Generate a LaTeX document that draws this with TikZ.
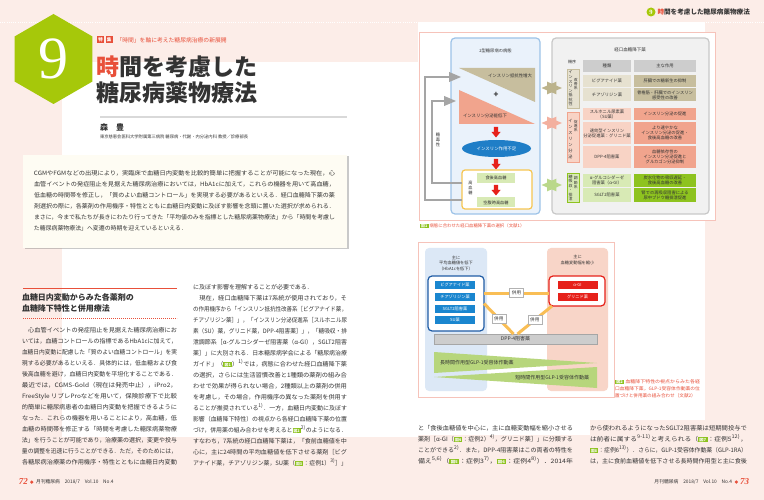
\documentclass[tikz,border=0pt]{standalone}
\usepackage{fontspec}
\setmainfont{Noto Sans CJK JP}
\newfontfamily\numfont{Liberation Serif}
\usepackage{graphicx}
\usepackage{tikz}
\usetikzlibrary{arrows,positioning,calc,shapes.geometric,shadows}

\definecolor{bgpink}{HTML}{FCEDE8}
\definecolor{hexgreen}{HTML}{A6C80A}
\definecolor{jred}{HTML}{E8503A}
\definecolor{zugreen}{HTML}{8DC21F}
\definecolor{ink}{HTML}{333333}
\definecolor{framepink}{HTML}{F6C3BA}
\definecolor{pblue}{HTML}{EAF2FB}
\definecolor{pblueline}{HTML}{9DC3E8}
\definecolor{pgray}{HTML}{F1F1F1}
\definecolor{pgrayline}{HTML}{C8C8C8}
\definecolor{tanD}{HTML}{C7BE9E}
\definecolor{tanL}{HTML}{E6E1D0}
\definecolor{tanA}{HTML}{BCB38C}
\definecolor{salD}{HTML}{F1A48D}
\definecolor{salL}{HTML}{F8D3C5}
\definecolor{salA}{HTML}{F3B09F}
\definecolor{grD}{HTML}{8EC31F}
\definecolor{grL}{HTML}{D8EAB5}
\definecolor{grA}{HTML}{BAD88B}
\definecolor{ellblue}{HTML}{1F7EC7}
\definecolor{arrred}{HTML}{E6211A}
\definecolor{ybox}{HTML}{F6C550}
\definecolor{gline}{HTML}{A5A5A5}
\definecolor{hdgray}{HTML}{CDCDCD}
\definecolor{ftblue}{HTML}{DCE8F6}
\definecolor{ftpink}{HTML}{F8D5C8}
\definecolor{itblue}{HTML}{1A86CF}
\definecolor{boxblue}{HTML}{1F5CA5}
\definecolor{orng}{HTML}{F9BE55}
\definecolor{wedge}{HTML}{B7D67C}
\definecolor{cream}{HTML}{FEFCF3}

\newcommand\fs[2]{\fontsize{#1}{#2}\selectfont}
\newcommand\jl[2][155pt]{\resizebox{#1}{\height}{#2}}
\newcommand\zu[1]{{\setlength{\fboxsep}{0.6pt}\colorbox{zugreen}{\textcolor{white}{\fs{3.8}{4}\bfseries\,図#1\,}}}}
\newcommand\rf[1]{\textsuperscript{#1}}

\tikzset{redarr/.pic={\fill[arrred] (-2.2,-5) -- (2.2,-5) -- (2.2,0) -- (4.5,0) -- (0,5.5) -- (-4.5,0) -- (-2.2,0) -- cycle;}}

\begin{document}
\begin{tikzpicture}[x=1pt, y=-1pt, inner sep=0pt, outer sep=0pt, font=\fs{4.3}{5.2}, text=ink,
  cell/.style={minimum height=12pt, align=center},
  lcell/.style={cell, minimum width=48pt},
  rcell/.style={cell, minimum width=62pt},
  glab/.style={minimum width=12pt, line width=0.5pt},
  vt/.style={align=center, font=\fs{4}{4.55}},
  col/.style={anchor=north west, align=left, font=\fs{6}{11}},
  garr/.style={draw=gline, line width=1.8pt, -triangle 45},
  darr/.style={line width=2.5pt, triangle 45-triangle 45},
  itm/.style={minimum width=40pt, minimum height=8pt, text=white, font=\fs{4.2}{5}},
  heiyo/.style={fill=white, draw=gray!60, line width=0.5pt, minimum width=14pt, minimum height=9pt, font=\fs{4.6}{5}},
  oline/.style={draw=orng, line width=3pt}]
\useasboundingbox (0,0) rectangle (764,500);
% page background
\fill[bgpink] (0,0) rectangle (764,500);
\fill[white] (62,62) rectangle (418,437);
\fill[white] (418,22) rectangle (705,420);
\fill[white] (418,420) rectangle (590,435);
\draw[white, line width=0.8pt, dash pattern=on 0.8pt off 1.4pt] (0,22) -- (764,22);

% title block
\fill[hexgreen] (53.5,59) +(90:45) -- +(30:45) -- +(-30:45) -- +(-90:45) -- +(-150:45) -- +(150:45) -- cycle;
\node[text=white, font=\numfont\fs{60}{60}] (nine) at (53.5,59) {9};
\node[fill=jred, minimum size=7pt, text=white, font=\fs{4.5}{5}\bfseries] (tk1) at (100.5,40) {特};
\node[fill=jred, minimum size=7pt, text=white, font=\fs{4.5}{5}\bfseries, right=1.5pt of tk1] (tk2) {集};
\node[right=4pt of tk2, text=jred, font=\fs{5.8}{6}] (sub) {「時間」を軸に考えた糖尿病治療の新展開};
\node[anchor=west, font=\fs{23}{26}\bfseries] (ttl1) at (96,67) {\textcolor{jred}{時}間を考慮した};
\node[anchor=west, font=\fs{23}{26}\bfseries] (ttl2) at (96,93) {糖尿病薬物療法};
\draw[line width=1.5pt, gray!30] (100,117) -- (347,117);
\node[anchor=west, font=\fs{8}{9}\bfseries] (auth) at (100,127) {森　豊};
\node[anchor=west, font=\fs{4.3}{5}] (affil) at (100,137) {東京慈恵会医科大学附属第三病院 糖尿病・代謝・内分泌内科 教授／診療部長};

% abstract
\node[fill=cream, minimum width=324pt, minimum height=93pt,
  drop shadow={shadow xshift=1.5pt, shadow yshift=-1.5pt, opacity=0.35, fill=black!60}] (abs) at (185,201.5) {};
\node[col, font=\fs{5.9}{11}] (abstxt) at (34,171) {%
\jl[301pt]{CGMやFGMなどの出現により，実臨床で血糖日内変動を比較的簡単に把握することが可能になった現在，心}\\
\jl[301pt]{血管イベントの発症阻止を見据えた糖尿病治療においては，HbA1cに加えて，これらの機器を用いて高血糖，}\\
\jl[301pt]{低血糖の時間帯を修正し，「質のよい血糖コントロール」を実現する必要があるといえる．経口血糖降下薬の薬}\\
\jl[301pt]{剤選択の際に，各薬剤の作用機序・特性とともに血糖日内変動に及ぼす影響を念頭に置いた選択が求められる．}\\
\jl[301pt]{まさに，今まで私たちが長きにわたり行ってきた「平均値のみを指標とした糖尿病薬物療法」から「時間を考慮し}\\
た糖尿病薬物療法」へ変遷の時期を迎えているといえる．};

% section heading
\draw[jred, line width=1.5pt] (23,288.5) -- (177,288.5);
\node[anchor=north west, align=left, font=\fs{8}{11}\bfseries] (sec) at (22,294) {血糖日内変動からみた各薬剤の\\血糖降下特性と併用療法};
\draw[jred, line width=0.8pt, dash pattern=on 0.8pt off 1.2pt] (23,318) -- (177,318);

% body text, left page
\node[col] (colA) at (22,327) {%
\jl{　心血管イベントの発症阻止を見据えた糖尿病治療にお}\\
\jl{いては，血糖コントロールの指標であるHbA1cに加えて，}\\
\jl{血糖日内変動に配慮した「質のよい血糖コントロール」を実}\\
\jl{現する必要があるといえる．具体的には，低血糖および食}\\
\jl{後高血糖を避け，血糖日内変動を平坦化することである．}\\
\jl{最近では，CGMS-Gold（現在は発売中止），iPro2，}\\
\jl{FreeStyle リブレProなどを用いて，保険診療下で比較}\\
\jl{的簡単に糖尿病患者の血糖日内変動を把握できるように}\\
\jl{なった．これらの機器を用いることにより，高血糖，低}\\
\jl{血糖の時間帯を修正する「時間を考慮した糖尿病薬物療}\\
\jl{法」を行うことが可能であり，治療薬の選択，変更や投与}\\
\jl{量の調整を迅速に行うことができる．ただ，そのためには，}\\
\jl{各糖尿病治療薬の作用機序・特性とともに血糖日内変動}};
\node[col] (colB) at (193,284) {%
に及ぼす影響を理解することが必要である．\\
\jl[154pt]{　現在，経口血糖降下薬は7系統が使用されており，そ}\\
\jl[154pt]{の作用機序から「インスリン抵抗性改善系［ビグアナイド薬，}\\
\jl[154pt]{チアゾリジン薬］」，「インスリン分泌促進系［スルホニル尿}\\
\jl[154pt]{素（SU）薬，グリニド薬，DPP-4阻害薬］」，「糖吸収・排}\\
\jl[154pt]{泄調節系［α-グルコシダーゼ阻害薬（α-GI），SGLT2阻害}\\
\jl[154pt]{薬］」に大別される．日本糖尿病学会による「糖尿病治療}\\
\jl[154pt]{ガイド」（\zu{1}）\rf{1)}では，病態に合わせた経口血糖降下薬}\\
\jl[154pt]{の選択，さらには生活習慣改善と1種類の薬剤の組み合}\\
\jl[154pt]{わせで効果が得られない場合，2種類以上の薬剤の併用}\\
\jl[154pt]{を考慮し，その場合，作用機序の異なった薬剤を併用す}\\
\jl[154pt]{ることが推奨されている\rf{1)}．一方，血糖日内変動に及ぼす}\\
\jl[154pt]{影響（血糖降下特性）の視点から各経口血糖降下薬の位置}\\
\jl[154pt]{づけ，併用薬の組み合わせを考えると\zu{2}\rf{2)}のようになる．}\\
\jl[154pt]{すなわち，7系統の経口血糖降下薬は，「食前血糖値を中}\\
\jl[154pt]{心に，主に24時間の平均血糖値を低下させる薬剤［ビグ}\\
\jl[154pt]{アナイド薬，チアゾリジン薬，SU薬（\zu{3}：症例1）\rf{3)}］」}};

% page footers
\node[anchor=west, text=jred, font=\numfont\fs{9}{9}\bfseries\itshape] (pl) at (19,482) {72};
\node[circle, fill=jred, minimum size=3.5pt, right=2pt of pl] (dl) {};
\node[right=2.5pt of dl, font=\fs{4.8}{5}] (fl) {月刊糖尿病　2018/7　Vol.10　No.4};
\node[anchor=east, text=jred, font=\numfont\fs{9}{9}\bfseries\itshape] (pr) at (749,482) {73};
\node[circle, fill=jred, minimum size=3.5pt, left=2pt of pr] (dr) {};
\node[left=2.5pt of dr, font=\fs{4.8}{5}] (fr) {月刊糖尿病　2018/7　Vol.10　No.4};

% running head, right page
\node[circle, fill=hexgreen, minimum size=9pt, text=white, font=\numfont\fs{6.5}{7}\bfseries] (hd9) at (651,12) {9};
\node[right=2pt of hd9, font=\fs{6.6}{7}\bfseries] (hdt) {\textcolor{jred}{時}間を考慮した糖尿病薬物療法};

% figure 1
\node[draw=framepink, line width=0.8pt, fill=white, minimum width=296pt, minimum height=188pt] (f1) at (567,126) {};
\node[draw=pblueline, fill=pblue, line width=1.2pt, rounded corners=4pt, minimum width=89pt, minimum height=176pt] (lp) at (495.5,126) {};
\node[draw=pgrayline, fill=pgray, line width=1.2pt, rounded corners=4pt, minimum width=157pt, minimum height=176pt] (rp) at (630.5,126) {};
\node (lpt) at (495.5,51) {2型糖尿病の病態};
\node[font=\fs{4.5}{5}] (rpt) at (630,50) {経口血糖降下薬};

\fill[tanD] (459,68) -- (535,68) -- (535,102) -- cycle;
\node[anchor=east, font=\fs{4.4}{5}] (ires) at (532,76) {インスリン抵抗性増大};
\node[font=\fs{8}{8}\bfseries] (plus) at (496,95) {+};
\fill[salD] (459,90) -- (459,124) -- (535,124) -- cycle;
\node[anchor=west, font=\fs{4.4}{5}] (isec) at (463,116) {インスリン分泌能低下};
\pic at (496,132) {redarr};
\node[ellipse, fill=ellblue, minimum width=69pt, minimum height=17pt, text=white, font=\fs{4.4}{5}] (ell) at (496.5,148.5) {インスリン作用不足};
\pic at (496,164) {redarr};
\node[draw=ybox, fill=white, line width=1.2pt, rounded corners=3pt, minimum width=70pt, minimum height=39pt] (yb) at (497,189.5) {};
\node[vt, font=\fs{4.2}{5}] (hbg) at (470.5,188) {高\\血\\糖};
\node[fill=grL, minimum width=38pt, minimum height=10pt, font=\fs{4.2}{5}] (gb1) at (496,178) {食後高血糖};
\pic at (496,190) {redarr};
\node[fill=grL, minimum width=38pt, minimum height=10pt, font=\fs{4.2}{5}] (gb2) at (496,202.5) {空腹時高血糖};

\coordinate (t1) at (461,77);
\coordinate (t2) at (456,101);
\draw[garr] ([yshift=-10.5pt]yb.west) -- ++(-37,0) |- (t1);
\draw[garr] ([yshift=6.5pt]yb.west) -- ++(-30,0) |- (t2);
\node[vt, font=\fs{4.3}{5}] (gtox) at (438,140) {糖\\毒\\性};

% drug table
\node[font=\fs{4}{5}] (kijo) at (572,62) {機序};
\node[lcell, fill=hdgray] (h1) at (607,66) {種類};
\node[rcell, fill=hdgray, right=3pt of h1] (h2) {主な作用};
\node[lcell, fill=tanL] (a1) at (607,81) {ビグアナイド薬};
\node[rcell, fill=tanD, right=3pt of a1] (b1) {肝臓での糖新生の抑制};
\node[lcell, fill=tanL, minimum height=13pt, below=1.5pt of a1] (a2) {チアゾリジン薬};
\node[rcell, fill=tanD, minimum height=13pt, right=3pt of a2] (b2) {骨格筋・肝臓でのインスリン\\感受性の改善};
\node[lcell, fill=salL] (a3) at (607,114) {スルホニル尿素薬\\（SU薬）};
\node[rcell, fill=salD, right=3pt of a3] (b3) {インスリン分泌の促進};
\node[lcell, fill=salL, minimum height=22pt, below=2pt of a3] (a4) {速効型インスリン\\分泌促進薬：グリニド薬};
\node[rcell, fill=salD, minimum height=22pt, right=3pt of a4] (b4) {より速やかな\\インスリン分泌の促進・\\食後高血糖の改善};
\node[lcell, fill=salL, minimum height=22pt, below=2pt of a4] (a5) {DPP-4阻害薬};
\node[rcell, fill=salD, minimum height=22pt, right=3pt of a5] (b5) {血糖依存性の\\インスリン分泌促進と\\グルカゴン分泌抑制};
\node[lcell, fill=grL, minimum height=13pt] (a6) at (607,180.5) {α-グルコシダーゼ\\阻害薬（α-GI）};
\node[rcell, fill=grD, minimum height=13pt, right=3pt of a6] (b6) {炭水化物の吸収遅延・\\食後高血糖の改善};
\node[lcell, fill=grL, minimum height=14pt, below=1pt of a6] (a7) {SGLT2阻害薬};
\node[rcell, fill=grD, minimum height=14pt, right=3pt of a7] (b7) {腎での再吸収阻害による\\尿中ブドウ糖排泄促進};

\node[glab, fill=tanL, draw=tanD, minimum height=39pt] (lab1) at (573,88.5) {};
\node[vt] (lab1a) at (570.5,88.5) {イ\\ン\\ス\\リ\\ン\\抵\\抗\\性};
\node[vt, font=\fs{3.8}{4.4}] (lab1b) at (575.7,84) {改\\善\\系};
\node[glab, fill=salL, draw=salD, minimum height=50pt] (lab2) at (573,137) {};
\node[vt, font=\fs{4.2}{6}] (lab2a) at (570.5,139) {イ\\ン\\ス\\リ\\ン\\分\\泌};
\node[vt, font=\fs{3.8}{4.4}] (lab2b) at (575.7,126) {促\\進\\系};
\node[glab, fill=grL, draw=grD, minimum height=29pt] (lab3) at (573,187.5) {};
\node[vt] (lab3a) at (570.5,188) {糖\\吸\\収\\・\\排\\泄};
\node[vt, font=\fs{3.8}{4.4}] (lab3b) at (575.7,183) {調\\節\\系};

\coordinate (y1) at (0,88);
\coordinate (y2) at (0,123);
\coordinate (y3) at (0,185);
\draw[darr, draw=tanA] ([xshift=1.5pt]lp.east |- y1) -- ([xshift=-5pt]lab1.west |- y1);
\draw[darr, draw=salA] ([xshift=1.5pt]lp.east |- y2) -- ([xshift=-5pt]lab2.west |- y2);
\draw[darr, draw=grA] ([xshift=1.5pt]lp.east |- y3) -- ([xshift=-5pt]lab3.west |- y3);

\node[anchor=west, text=jred, font=\fs{4.4}{5}] (cap1) at (420,226) {\zu{1} 病態に合わせた経口血糖降下薬の選択（文献1）};

% figure 2
\node[draw=framepink, line width=0.8pt, fill=white, minimum width=196pt, minimum height=155pt] (f2) at (516,319.5) {};
\node[fill=ftblue, rounded corners=4pt, minimum width=62pt, minimum height=143pt] (bp) at (456,319.5) {};
\node[fill=ftpink, rounded corners=4pt, minimum width=61pt, minimum height=143pt] (pp) at (577.5,319.5) {};
\node[align=center, font=\fs{4.2}{5.5}] (bpt) at (456,263) {主に\\平均血糖値を低下\\（HbA1cを低下）};
\node[align=center, font=\fs{4.2}{5.5}] (ppt) at (577.5,260) {主に\\血糖変動幅を縮小};
\node[draw=boxblue, fill=white, line width=1.2pt, rounded corners=4pt, minimum width=56pt, minimum height=55pt] (bb) at (456,303.5) {};
\node[itm, fill=itblue] (i1) at (455,285) {ビグアナイド薬};
\node[itm, fill=itblue] (i2) at (455,297) {チアゾリジン薬};
\node[itm, fill=itblue] (i3) at (455,308.5) {SGLT2阻害薬};
\node[itm, fill=itblue] (i4) at (455,320) {SU薬};
\node[draw=arrred, fill=white, line width=1.2pt, rounded corners=4pt, minimum width=56pt, minimum height=30pt] (rb) at (577,291) {};
\node[itm, fill=arrred] (r1) at (577.5,285) {α-GI};
\node[itm, fill=arrred] (r2) at (577.5,297) {グリニド薬};
\node[draw=gray!70, fill=hdgray, line width=0.5pt, minimum width=163pt, minimum height=10pt, font=\fs{5}{5}] (dpp) at (515.5,339) {DPP-4阻害薬};

\coordinate (hz) at (0,293);
\draw[oline] (bb.east |- hz) -- node[heiyo] (hy1) {併用} (rb.west |- hz);
\draw[oline] (bb.east) -- node[heiyo] (hy2) {併用} ([xshift=-2pt]dpp.north);
\draw[oline] ([xshift=3pt]rb.south west) -- node[heiyo] (hy3) {併用} ([xshift=2pt]dpp.north);

\fill[wedge] (434,352) -- (597,363) -- (434,373) -- cycle;
\fill[wedge] (434,377) -- (597,367) -- (597,388) -- cycle;
\node[anchor=west, font=\fs{5}{5}] (glpL) at (440,363) {長時間作用型GLP-1受容体作動薬};
\node[anchor=east, font=\fs{5}{5}] (glpS) at (589,378) {短時間作用型GLP-1受容体作動薬};

\node[anchor=north west, align=left, text=jred, font=\fs{4.6}{7}] (cap2) at (615,379.5) {%
\jl[85pt]{\zu{2} 血糖降下特性の視点からみた各経}\\
\jl[85pt]{口血糖降下薬，GLP-1受容体作動薬の位}\\
置づけと併用薬の組み合わせ（文献2）};

% body text, right page
\node[col] (colC) at (418,425) {%
\jl{と「食後血糖値を中心に，主に血糖変動幅を縮小させる}\\
\jl{薬剤［α-GI（\zu{4}：症例2）\rf{4)}，グリニド薬］」に分類する}\\
\jl{ことができる\rf{2)}．また，DPP-4阻害薬はこの両者の特性を}\\
\jl{備え\rf{5,6)}（\zu{5}：症例3\rf{7)}，\zu{6}：症例4\rf{8)}）．2014年}};
\node[col] (colD) at (590,425) {%
\jl[157pt]{から使われるようになったSGLT2阻害薬は短期間投与で}\\
\jl[157pt]{は前者に属する\rf{9-11)}と考えられる（\zu{7}：症例5\rf{12)}，}\\
\jl[157pt]{\zu{8}：症例6\rf{13)}）．さらに，GLP-1受容体作動薬（GLP-1RA）}\\
\jl[157pt]{は，主に食前血糖値を低下させる長時間作用型と主に食後}};
\end{tikzpicture}
\end{document}
